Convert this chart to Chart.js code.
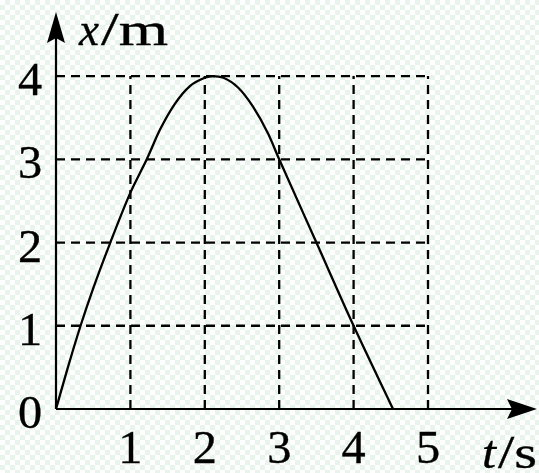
<!DOCTYPE html>
<html>
<head>
<meta charset="utf-8">
<script src="https://cdn.jsdelivr.net/npm/chart.js@4/dist/chart.umd.min.js"></script>
<style>
  html, body { margin: 0; padding: 0; }
  body {
    width: 539px; height: 473px; overflow: hidden;
    background: repeating-conic-gradient(#e8f4ec 0% 25%, #ffffff 0% 50%) 0 0 / 10px 10px;
  }
  #wrap { width: 539px; height: 473px; position: relative; }
  .preload { position: absolute; left: -9999px; top: 0; font-family: "Liberation Serif"; font-size: 46px; }
</style>
</head>
<body>
<span class="preload">0123 x/m</span><span class="preload" style="font-style:italic">xt</span>
<div id="wrap"><canvas id="c"></canvas></div>
<script>
// ---- data ----
const timeValues = [0, 0.15, 0.33, 0.5, 0.73, 1.0, 1.22, 1.4, 1.6, 1.8, 2.0, 2.1, 2.25, 2.45, 2.65, 2.85, 3.0, 3.5, 4.0, 4.53];
const positionValues = [0, 0.47, 1.0, 1.45, 2.0, 2.6, 3.0, 3.36, 3.67, 3.88, 3.98, 4.0, 3.98, 3.86, 3.63, 3.31, 3.0, 2.0, 1.0, 0];
const xGridValues = [1, 2, 3, 4, 5];
const yGridValues = [1, 2, 3, 4];
const xTickLabels = ['1', '2', '3', '4', '5'];
const yTickLabels = ['0', '1', '2', '3', '4'];
const yTickValues = [0, 1, 2, 3, 4];
const xAxisTitle = ['t', '/s'];
const yAxisTitle = ['x', '/m'];

const X_MAX = 6.465, Y_MAX = 4.77;
const GRID_X_END = 5, GRID_Y_END = 4;

const curvePoints = timeValues.map((t, i) => ({ x: t, y: positionValues[i] }));

const gridStyle = {
  borderColor: '#000', borderWidth: 2.3, borderDash: [9, 6],
  pointRadius: 0, fill: false, tension: 0
};
const gridDatasets = [];
yGridValues.forEach(v => gridDatasets.push(Object.assign({
  data: [{ x: 0, y: v }, { x: GRID_X_END, y: v }]
}, gridStyle)));
xGridValues.forEach(v => gridDatasets.push(Object.assign({
  data: [{ x: v, y: 0 }, { x: v, y: GRID_Y_END }]
}, gridStyle)));

const FONT = '"Liberation Serif"';

function drawText(ctx, text, font, x, y, sx, align) {
  ctx.save();
  ctx.font = font;
  ctx.translate(x, y);
  ctx.scale(sx, 1);
  ctx.textAlign = align || 'left';
  ctx.lineWidth = 0.35;
  ctx.fillText(text, 0, 0);
  ctx.strokeText(text, 0, 0);
  ctx.restore();
}
function drawFitted(ctx, text, font, x, y, width) {
  ctx.save();
  ctx.font = font;
  const w = ctx.measureText(text).width;
  ctx.restore();
  drawText(ctx, text, font, x, y, width / w, 'left');
}

const axesPlugin = {
  id: 'axesPlugin',
  afterDatasetsDraw(chart) {
    const ctx = chart.ctx;
    const xs = chart.scales.x, ys = chart.scales.y;
    const x0 = xs.getPixelForValue(0), y0 = ys.getPixelForValue(0);
    const xEnd = xs.getPixelForValue(X_MAX), yEnd = ys.getPixelForValue(Y_MAX);
    ctx.save();
    ctx.strokeStyle = '#000'; ctx.fillStyle = '#000'; ctx.lineWidth = 2.2;
    // axis lines
    ctx.beginPath();
    ctx.moveTo(x0, y0); ctx.lineTo(xEnd - 20, y0);
    ctx.moveTo(x0, y0); ctx.lineTo(x0, yEnd + 20);
    ctx.stroke();
    // x arrow
    ctx.beginPath();
    ctx.moveTo(xEnd, y0);
    ctx.lineTo(xEnd - 30, y0 - 10);
    ctx.lineTo(xEnd - 25, y0);
    ctx.lineTo(xEnd - 30, y0 + 10);
    ctx.closePath(); ctx.fill();
    // y arrow
    ctx.beginPath();
    ctx.moveTo(x0, yEnd);
    ctx.lineTo(x0 - 9, yEnd + 31);
    ctx.lineTo(x0, yEnd + 26);
    ctx.lineTo(x0 + 9, yEnd + 31);
    ctx.closePath(); ctx.fill();
    // tick labels
    const f = '46px ' + FONT;
    yTickValues.forEach((v, i) => {
      drawText(ctx, yTickLabels[i], f, x0 - 26, ys.getPixelForValue(v) + 19, 1.05, 'center');
    });
    xGridValues.forEach((v, i) => {
      drawText(ctx, xTickLabels[i], f, xs.getPixelForValue(v), y0 + 54, 1.05, 'center');
    });
    // axis titles
    drawFitted(ctx, yAxisTitle[0], 'italic 46px ' + FONT, 79, 45, 20);
    drawFitted(ctx, yAxisTitle[1], '46px ' + FONT, 101, 45, 67);
    drawFitted(ctx, xAxisTitle[0], 'italic 46px ' + FONT, 482, y0 + 59, 14);
    drawFitted(ctx, xAxisTitle[1], '46px ' + FONT, 498, y0 + 59, 39);
    ctx.restore();
  }
};

function build() {
  new Chart(document.getElementById('c'), {
    type: 'line',
    data: {
      datasets: gridDatasets.concat([{
        data: curvePoints,
        borderColor: '#000', borderWidth: 2.3,
        pointRadius: 0, fill: false,
        cubicInterpolationMode: 'monotone'
      }])
    },
    options: {
      responsive: true, maintainAspectRatio: false, animation: false,
      layout: { padding: { left: 56, right: 2, top: 12, bottom: 64 } },
      plugins: { legend: { display: false }, tooltip: { enabled: false } },
      scales: {
        x: { type: 'linear', min: 0, max: X_MAX, display: false },
        y: { type: 'linear', min: 0, max: Y_MAX, display: false }
      }
    },
    plugins: [axesPlugin]
  });
}
Promise.all([
  document.fonts.load('46px "Liberation Serif"'),
  document.fonts.load('italic 46px "Liberation Serif"')
]).then(build, build);
</script>
</body>
</html>
